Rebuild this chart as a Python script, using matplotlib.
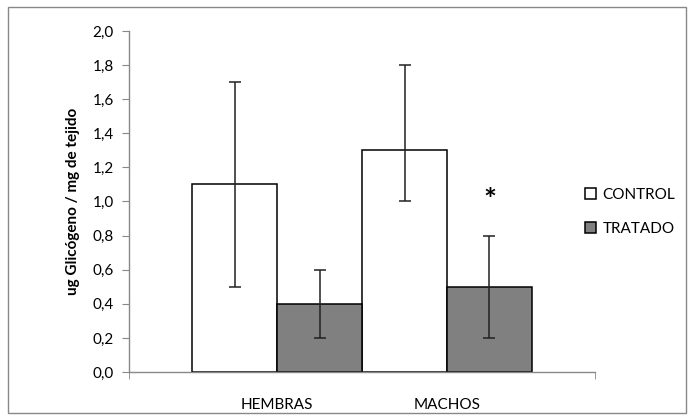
import numpy as np
import matplotlib.pyplot as plt
from matplotlib.patches import Rectangle

plt.rcParams['font.family'] = ['Lato', 'DejaVu Sans']

groups = ['HEMBRAS', 'MACHOS']
series = ['CONTROL', 'TRATADO']
control = [1.1, 1.3]
control_err_low = [0.6, 0.3]
control_err_high = [0.6, 0.5]
tratado = [0.4, 0.5]
tratado_err = [0.2, 0.3]
yticks = [0.0, 0.2, 0.4, 0.6, 0.8, 1.0, 1.2, 1.4, 1.6, 1.8, 2.0]

fig = plt.figure(figsize=(6.94, 4.2), dpi=100)
ax = fig.add_axes([0.1859, 0.1143, 0.6715, 0.8119])

# gray frame round the whole chart
fig.patches.append(Rectangle((0.011, 0.017), 0.978, 0.966, transform=fig.transFigure,
                             fill=False, edgecolor='#888888', linewidth=1.0))

x = np.arange(len(groups))
w = 0.5
ekw = dict(ecolor='#222222', elinewidth=1.1, capsize=4, capthick=1.1)
ax.bar(x - w / 2, control, w, yerr=[control_err_low, control_err_high], color='white',
       edgecolor='black', linewidth=1.1, label=series[0], error_kw=ekw)
ax.bar(x + w / 2, tratado, w, yerr=tratado_err, color='#808080', edgecolor='black',
       linewidth=1.1, label=series[1], error_kw=ekw)

# significance mark
ax.text(x[1] + w / 2, tratado[1] + tratado_err[1] + 0.2, '*', ha='center', va='center',
        fontsize=22, fontweight='bold')

ax.set_xlim(-0.871, 1.871)
ax.set_ylim(0, 2.0)
ax.set_yticks(yticks)
ax.set_yticklabels([f'{v:.1f}'.replace('.', ',') for v in yticks], fontsize=11)
ax.set_xticks(x)
ax.set_xticklabels(groups, fontsize=11)
ax.tick_params(axis='x', length=0, pad=19)
ax.set_xticks([-0.871, 1.871], minor=True)
ax.tick_params(axis='x', which='minor', length=5, color='#888888', direction='out')
ax.tick_params(axis='y', length=5, color='#888888', direction='out', pad=6)
ax.set_ylabel('ug Glicógeno / mg de tejido', fontsize=11, fontweight='bold', labelpad=9)

for s in ['top', 'right']:
    ax.spines[s].set_visible(False)
for s in ['left', 'bottom']:
    ax.spines[s].set_color('#888888')
    ax.spines[s].set_linewidth(1.0)

ax.legend(loc='center left', bbox_to_anchor=(0.95, 0.47), frameon=False, fontsize=11,
          handlelength=0.7, handleheight=0.7, handletextpad=0.4, labelspacing=1.3)

fig.savefig('out.png', dpi=100)
